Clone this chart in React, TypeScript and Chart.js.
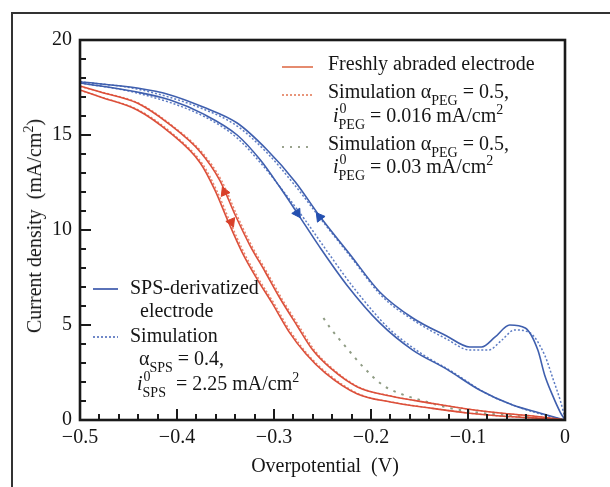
import React, { useEffect, useRef } from "react";
import { Chart, registerables } from "chart.js";

Chart.register(...registerables);

const FONT = '"Liberation Serif", "Times New Roman", serif';

// ---- axis ticks ----
const xMajorTicks = [-0.5, -0.4, -0.3, -0.2, -0.1, 0];
const yMajorTicks = [0, 5, 10, 15, 20];
const xMinorStep = 0.02;
const yMinorStep = 1;

// ---- SPS-derivatized electrode (blue, measured) ----
const blueOuterX = [-0.5, -0.441, -0.407, -0.373, -0.338, -0.307, -0.278, -0.253, -0.222, -0.191, -0.157, -0.122, -0.098, -0.086, -0.072, -0.057, -0.041, -0.028, -0.021, -0.013, -0.005, 0];
const blueOuterY = [17.8, 17.47, 17.11, 16.47, 15.63, 14.21, 12.53, 10.74, 8.74, 6.74, 5.37, 4.42, 3.84, 3.84, 4.37, 5.0, 4.84, 3.68, 2.37, 1.32, 0.42, 0];
const blueInnerX = [-0.5, -0.441, -0.407, -0.373, -0.338, -0.314, -0.294, -0.276, -0.253, -0.225, -0.191, -0.157, -0.122, -0.088, -0.054, -0.026, 0];
const blueInnerY = [17.74, 17.26, 16.84, 16.11, 15.0, 13.68, 12.26, 10.89, 9.11, 7.11, 5.11, 3.68, 2.68, 1.58, 0.79, 0.37, 0];

// ---- SPS simulation (blue dotted) ----
const blueSimOuterX = [-0.5, -0.441, -0.373, -0.338, -0.307, -0.278, -0.251, -0.22, -0.189, -0.155, -0.122, -0.098, -0.079, -0.065, -0.052, -0.036, -0.021, -0.012, -0.005, 0];
const blueSimOuterY = [17.8, 17.42, 16.37, 15.47, 14.05, 12.32, 10.53, 8.53, 6.53, 5.21, 4.26, 3.68, 3.68, 4.21, 4.74, 4.58, 3.42, 2.11, 1.05, 0.11];
const blueSimInnerX = [-0.5, -0.441, -0.373, -0.338, -0.312, -0.289, -0.268, -0.244, -0.216, -0.182, -0.149, -0.116, -0.082, -0.048, -0.021, 0];
const blueSimInnerY = [17.74, 17.21, 16.0, 14.84, 13.42, 11.95, 10.53, 8.79, 6.84, 4.84, 3.53, 2.53, 1.42, 0.68, 0.26, 0];

// ---- Freshly abraded electrode (red, measured) ----
const redOuterX = [-0.5, -0.479, -0.441, -0.407, -0.376, -0.356, -0.34, -0.325, -0.309, -0.294, -0.276, -0.26, -0.242, -0.214, -0.18, -0.139, -0.101, -0.067, -0.033, 0];
const redOuterY = [17.58, 17.26, 16.68, 15.53, 14.11, 12.63, 10.79, 9.21, 7.79, 6.42, 4.95, 3.68, 2.74, 1.74, 1.26, 0.89, 0.58, 0.37, 0.21, 0];
const redInnerX = [-0.5, -0.479, -0.441, -0.407, -0.376, -0.361, -0.347, -0.333, -0.318, -0.302, -0.285, -0.267, -0.247, -0.214, -0.18, -0.139, -0.101, -0.067, -0.033, 0];
const redInnerY = [17.37, 17.0, 16.32, 15.11, 13.53, 12.11, 10.42, 8.84, 7.47, 6.16, 4.68, 3.47, 2.47, 1.37, 0.95, 0.63, 0.37, 0.21, 0.11, 0];

// ---- PEG simulation, i0 = 0.016 (red dotted) ----
const redSimOuterX = [-0.5, -0.477, -0.439, -0.405, -0.374, -0.354, -0.338, -0.323, -0.307, -0.292, -0.274, -0.258, -0.24, -0.212, -0.178, -0.137, -0.099, -0.065, -0.031, 0];
const redSimOuterY = [17.55, 17.25, 16.66, 15.5, 14.08, 12.6, 10.76, 9.18, 7.76, 6.4, 4.93, 3.66, 2.72, 1.72, 1.25, 0.88, 0.57, 0.36, 0.2, 0];
const redSimInnerX = [-0.5, -0.477, -0.439, -0.405, -0.374, -0.359, -0.345, -0.331, -0.316, -0.3, -0.283, -0.265, -0.245, -0.212, -0.178, -0.137, -0.099, -0.065, -0.031, 0];
const redSimInnerY = [17.35, 16.98, 16.3, 15.09, 13.5, 12.08, 10.4, 8.82, 7.45, 6.14, 4.66, 3.45, 2.46, 1.36, 0.94, 0.62, 0.36, 0.2, 0.1, 0];

// ---- PEG simulation, i0 = 0.03 (grey-green dotted) ----
const greenSimX = [-0.249, -0.242, -0.225, -0.208, -0.188, -0.163, -0.149, -0.119, -0.085, -0.036, 0];
const greenSimY = [5.37, 4.84, 3.79, 2.79, 1.84, 1.26, 1.05, 0.63, 0.37, 0.16, 0];

// ---- scan-direction arrows ----
const redArrowX = [-0.351, -0.344];
const redArrowY = [12.0, 10.42];
const blueArrowX = [-0.276, -0.253];
const blueArrowY = [10.89, 10.68];

const pts = (xs: number[], ys: number[]) => xs.map((x, i) => ({ x, y: ys[i] }));

const RED = "#dc4f3a";
const RED_SIM = "#e8846c";
const BLUE = "#3f5fae";
const BLUE_SIM = "#5d7cc4";
const GREEN = "#8f9c84";

const lineDs = (data: any, color: string, dash: number[] = [], width = 1.6) => ({
  data,
  borderColor: color,
  backgroundColor: color,
  borderWidth: width,
  borderDash: dash,
  pointRadius: 0,
  fill: false,
  cubicInterpolationMode: "monotone" as const,
});

const axisPlugin = {
  id: "axisBox",
  afterDraw(chart: any) {
    const { ctx, chartArea: a, scales } = chart;
    const x = scales.x;
    const y = scales.y;
    ctx.save();
    ctx.strokeStyle = "#1a1a1a";
    ctx.lineWidth = 2;
    const nx = Math.round((x.max - x.min) / xMinorStep);
    for (let i = 0; i <= nx; i++) {
      const v = x.min + i * xMinorStep;
      const major = xMajorTicks.some((t) => Math.abs(t - v) < 1e-6);
      const px = Math.round(x.getPixelForValue(v));
      ctx.beginPath();
      ctx.moveTo(px, a.bottom);
      ctx.lineTo(px, a.bottom - (major ? 11 : 6));
      ctx.stroke();
    }
    const ny = Math.round((y.max - y.min) / yMinorStep);
    for (let i = 0; i <= ny; i++) {
      const v = y.min + i * yMinorStep;
      const major = yMajorTicks.some((t) => Math.abs(t - v) < 1e-6);
      const py = Math.round(y.getPixelForValue(v));
      ctx.beginPath();
      ctx.moveTo(a.left, py);
      ctx.lineTo(a.left + (major ? 11 : 6), py);
      ctx.stroke();
    }
    ctx.lineWidth = 2.6;
    ctx.strokeRect(a.left, a.top, a.right - a.left, a.bottom - a.top);
    ctx.restore();
  },
};

const Sub = ({ children }: { children: any }) => (
  <span style={{ position: "relative", top: 7, fontSize: 14, lineHeight: "14px" }}>{children}</span>
);

const Sup2 = () => (
  <span style={{ position: "relative", top: -8, fontSize: 14, lineHeight: "14px" }}>2</span>
);

const SupSub = ({ sup, sub }: { sup: string; sub: string }) => (
  <span style={{ position: "relative", top: 7, fontSize: 14, lineHeight: "14px" }}>
    {sub}
    <span style={{ position: "absolute", left: 1, top: -15, lineHeight: "14px" }}>{sup}</span>
  </span>
);

const Txt = ({ left, baseline, children }: { left: number; baseline: number; children: any }) => (
  <div
    style={{
      position: "absolute",
      left,
      top: baseline - 17,
      font: `20px/20px ${FONT}`,
      color: "#151515",
      whiteSpace: "pre",
    }}
  >
    {children}
  </div>
);

const Sample = ({ x1, x2, y, color, dash }: { x1: number; x2: number; y: number; color: string; dash?: string }) => (
  <svg style={{ position: "absolute", left: 0, top: 0, overflow: "visible" }} width={1} height={1}>
    <line x1={x1} x2={x2} y1={y} y2={y} stroke={color} strokeWidth={2} strokeDasharray={dash} />
  </svg>
);

export default function App() {
  const canvasRef = useRef<HTMLCanvasElement | null>(null);

  useEffect(() => {
    const canvas = canvasRef.current;
    if (!canvas) return;
    const chart = new Chart(canvas, {
      type: "line",
      data: {
        datasets: [
          {
            data: pts(redArrowX, redArrowY),
            showLine: false,
            pointStyle: "triangle",
            pointRadius: 5.5,
            pointRotation: [-23, 157],
            backgroundColor: "#d8402a",
            borderColor: "#d8402a",
            borderWidth: 1,
          } as any,
          {
            data: pts(blueArrowX, blueArrowY),
            showLine: false,
            pointStyle: "triangle",
            pointRadius: 5.5,
            pointRotation: [147, -37],
            backgroundColor: "#2450b0",
            borderColor: "#2450b0",
            borderWidth: 1,
          } as any,
          lineDs(pts(redOuterX, redOuterY), RED),
          lineDs(pts(redInnerX, redInnerY), RED),
          lineDs(pts(redSimOuterX, redSimOuterY), RED_SIM, [2, 2], 1.4),
          lineDs(pts(redSimInnerX, redSimInnerY), RED_SIM, [2, 2], 1.4),
          lineDs(pts(greenSimX, greenSimY), GREEN, [2.5, 6], 2),
          lineDs(pts(blueOuterX, blueOuterY), BLUE),
          lineDs(pts(blueInnerX, blueInnerY), BLUE),
          lineDs(pts(blueSimOuterX, blueSimOuterY), BLUE_SIM, [2, 2], 1.5),
          lineDs(pts(blueSimInnerX, blueSimInnerY), BLUE_SIM, [2, 2], 1.5),
        ],
      },
      options: {
        animation: false,
        responsive: false,
        maintainAspectRatio: false,
        layout: { padding: { left: 0, top: 40, right: 45, bottom: 0 } },
        plugins: { legend: { display: false }, tooltip: { enabled: false } },
        scales: {
          x: {
            type: "linear",
            min: -0.5,
            max: 0,
            afterFit: (s: any) => {
              s.height = 67;
            },
            grid: { display: false, drawTicks: false },
            border: { display: false },
            afterBuildTicks: (s: any) => {
              s.ticks = xMajorTicks.map((v) => ({ value: v }));
            },
            ticks: {
              padding: 6,
              maxRotation: 0,
              autoSkip: false,
              color: "#151515",
              font: { family: FONT, size: 20 },
              callback: (v: any) => {
                const n = Number(v);
                return Math.abs(n) < 1e-9 ? "0" : "\u2212" + Math.abs(n).toFixed(1);
              },
            },
          },
          y: {
            type: "linear",
            min: 0,
            max: 20,
            afterFit: (s: any) => {
              s.width = 80;
            },
            grid: { display: false, drawTicks: false },
            border: { display: false },
            afterBuildTicks: (s: any) => {
              s.ticks = yMajorTicks.map((v) => ({ value: v }));
            },
            ticks: {
              padding: 8,
              color: "#151515",
              font: { family: FONT, size: 20 },
              callback: (v: any) => String(v),
            },
          },
        },
      },
      plugins: [axisPlugin],
    });
    return () => chart.destroy();
  }, []);

  return (
    <div
      style={{
        position: "absolute",
        left: 0,
        top: 0,
        width: 610,
        height: 487,
        overflow: "hidden",
        background: "#fff",
        fontFamily: FONT,
      }}
    >
      <div
        style={{
          position: "absolute",
          left: 11,
          top: 12,
          width: 700,
          height: 600,
          border: "2px solid #333",
        }}
      />
      <canvas ref={canvasRef} width={610} height={487} style={{ position: "absolute", left: 0, top: 0 }} />

      {/* axis titles */}
      <div
        style={{
          position: "absolute",
          left: 325,
          top: 465,
          transform: "translate(-50%, -50%)",
          font: `20px/24px ${FONT}`,
          color: "#151515",
          whiteSpace: "pre",
        }}
      >
        {"Overpotential  (V)"}
      </div>
      <div
        style={{
          position: "absolute",
          left: 34,
          top: 226,
          transform: "translate(-50%, -50%) rotate(-90deg)",
          font: `20px/24px ${FONT}`,
          color: "#151515",
          whiteSpace: "pre",
        }}
      >
        {"Current density  (mA/cm"}
        <Sup2 />
        {")"}
      </div>

      {/* legend, top right */}
      <Sample x1={282} x2={313} y={67} color="#e58b6f" />
      <Txt left={328} baseline={70}>Freshly abraded electrode</Txt>
      <Sample x1={282} x2={313} y={95} color="#e8957a" dash="2 2" />
      <Txt left={328} baseline={98}>
        {"Simulation α"}
        <Sub>PEG</Sub>
        {" = 0.5,"}
      </Txt>
      <Txt left={333} baseline={122}>
        <i>i</i>
        <SupSub sup="0" sub="PEG" />
        {" = 0.016 mA/cm"}
        <Sup2 />
      </Txt>
      <Sample x1={282} x2={313} y={147} color="#9aa38e" dash="2 6" />
      <Txt left={328} baseline={150}>
        {"Simulation α"}
        <Sub>PEG</Sub>
        {" = 0.5,"}
      </Txt>
      <Txt left={333} baseline={173}>
        <i>i</i>
        <SupSub sup="0" sub="PEG" />
        {" = 0.03 mA/cm"}
        <Sup2 />
      </Txt>

      {/* legend, bottom left */}
      <Sample x1={93} x2={118} y={289} color="#5a72b8" />
      <Txt left={130} baseline={294}>SPS-derivatized</Txt>
      <Txt left={140} baseline={317}>electrode</Txt>
      <Sample x1={93} x2={118} y={337} color="#7088c8" dash="2 2" />
      <Txt left={130} baseline={342}>Simulation</Txt>
      <Txt left={139} baseline={365}>
        {"α"}
        <Sub>SPS</Sub>
        {" = 0.4,"}
      </Txt>
      <Txt left={137} baseline={390}>
        <i>i</i>
        <SupSub sup="0" sub="SPS" />
        {"  = 2.25 mA/cm"}
        <Sup2 />
      </Txt>
    </div>
  );
}
